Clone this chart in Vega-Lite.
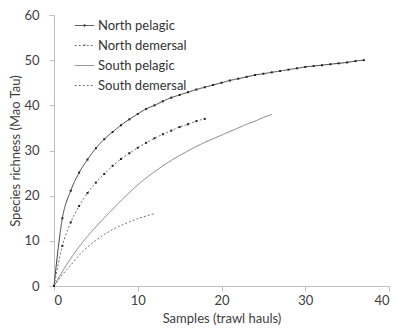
{
  "$schema": "https://vega.github.io/schema/vega-lite/v6.json",
  "width": 335,
  "height": 271,
  "autosize": {"type": "none"},
  "padding": {"left": 54, "top": 15, "right": 9, "bottom": 47},
  "background": "white",
  "config": {
    "view": {"stroke": null},
    "font": "Lato",
    "axis": {
      "grid": false,
      "domainColor": "#bfbfbf",
      "tickColor": "#bfbfbf",
      "tickSize": 5,
      "labelFont": "Lato",
      "labelFontSize": 13,
      "labelColor": "#404040",
      "titleFont": "Lato",
      "titleFontSize": 13,
      "titleFontWeight": "normal",
      "titleColor": "#404040"
    }
  },
  "data": {
    "values": [
      {"series": "North pelagic", "x": 0, "y": 0},
      {"series": "North pelagic", "x": 1, "y": 15.0},
      {"series": "North pelagic", "x": 2, "y": 21.1},
      {"series": "North pelagic", "x": 3, "y": 25.1},
      {"series": "North pelagic", "x": 4, "y": 28.0},
      {"series": "North pelagic", "x": 5, "y": 30.5},
      {"series": "North pelagic", "x": 6, "y": 32.5},
      {"series": "North pelagic", "x": 7, "y": 34.1},
      {"series": "North pelagic", "x": 8, "y": 35.6},
      {"series": "North pelagic", "x": 9, "y": 36.9},
      {"series": "North pelagic", "x": 10, "y": 38.1},
      {"series": "North pelagic", "x": 11, "y": 39.2},
      {"series": "North pelagic", "x": 12, "y": 40.0},
      {"series": "North pelagic", "x": 13, "y": 40.9},
      {"series": "North pelagic", "x": 14, "y": 41.7},
      {"series": "North pelagic", "x": 15, "y": 42.3},
      {"series": "North pelagic", "x": 16, "y": 42.9},
      {"series": "North pelagic", "x": 17, "y": 43.5},
      {"series": "North pelagic", "x": 18, "y": 44.0},
      {"series": "North pelagic", "x": 19, "y": 44.5},
      {"series": "North pelagic", "x": 20, "y": 45.0},
      {"series": "North pelagic", "x": 21, "y": 45.5},
      {"series": "North pelagic", "x": 22, "y": 45.9},
      {"series": "North pelagic", "x": 23, "y": 46.3},
      {"series": "North pelagic", "x": 24, "y": 46.7},
      {"series": "North pelagic", "x": 25, "y": 47.0},
      {"series": "North pelagic", "x": 26, "y": 47.3},
      {"series": "North pelagic", "x": 27, "y": 47.6},
      {"series": "North pelagic", "x": 28, "y": 47.9},
      {"series": "North pelagic", "x": 29, "y": 48.2},
      {"series": "North pelagic", "x": 30, "y": 48.5},
      {"series": "North pelagic", "x": 31, "y": 48.7},
      {"series": "North pelagic", "x": 32, "y": 48.9},
      {"series": "North pelagic", "x": 33, "y": 49.1},
      {"series": "North pelagic", "x": 34, "y": 49.3},
      {"series": "North pelagic", "x": 35, "y": 49.5},
      {"series": "North pelagic", "x": 36, "y": 49.8},
      {"series": "North pelagic", "x": 37, "y": 50.0},
      {"series": "North demersal", "x": 0, "y": 0},
      {"series": "North demersal", "x": 1, "y": 8.9},
      {"series": "North demersal", "x": 2, "y": 14.1},
      {"series": "North demersal", "x": 3, "y": 17.7},
      {"series": "North demersal", "x": 4, "y": 20.6},
      {"series": "North demersal", "x": 5, "y": 22.9},
      {"series": "North demersal", "x": 6, "y": 24.8},
      {"series": "North demersal", "x": 7, "y": 26.6},
      {"series": "North demersal", "x": 8, "y": 28.1},
      {"series": "North demersal", "x": 9, "y": 29.4},
      {"series": "North demersal", "x": 10, "y": 30.6},
      {"series": "North demersal", "x": 11, "y": 31.7},
      {"series": "North demersal", "x": 12, "y": 32.7},
      {"series": "North demersal", "x": 13, "y": 33.6},
      {"series": "North demersal", "x": 14, "y": 34.4},
      {"series": "North demersal", "x": 15, "y": 35.2},
      {"series": "North demersal", "x": 16, "y": 35.8},
      {"series": "North demersal", "x": 17, "y": 36.5},
      {"series": "North demersal", "x": 18, "y": 37.0},
      {"series": "South pelagic", "x": 0, "y": 0},
      {"series": "South pelagic", "x": 1, "y": 3.2},
      {"series": "South pelagic", "x": 2, "y": 6.1},
      {"series": "South pelagic", "x": 3, "y": 8.7},
      {"series": "South pelagic", "x": 4, "y": 11.0},
      {"series": "South pelagic", "x": 5, "y": 13.1},
      {"series": "South pelagic", "x": 6, "y": 15.1},
      {"series": "South pelagic", "x": 7, "y": 17.0},
      {"series": "South pelagic", "x": 8, "y": 18.9},
      {"series": "South pelagic", "x": 9, "y": 20.7},
      {"series": "South pelagic", "x": 10, "y": 22.4},
      {"series": "South pelagic", "x": 11, "y": 23.9},
      {"series": "South pelagic", "x": 12, "y": 25.3},
      {"series": "South pelagic", "x": 13, "y": 26.6},
      {"series": "South pelagic", "x": 14, "y": 27.8},
      {"series": "South pelagic", "x": 15, "y": 28.9},
      {"series": "South pelagic", "x": 16, "y": 29.9},
      {"series": "South pelagic", "x": 17, "y": 30.9},
      {"series": "South pelagic", "x": 18, "y": 31.8},
      {"series": "South pelagic", "x": 19, "y": 32.6},
      {"series": "South pelagic", "x": 20, "y": 33.4},
      {"series": "South pelagic", "x": 21, "y": 34.2},
      {"series": "South pelagic", "x": 22, "y": 35.0},
      {"series": "South pelagic", "x": 23, "y": 35.8},
      {"series": "South pelagic", "x": 24, "y": 36.5},
      {"series": "South pelagic", "x": 25, "y": 37.3},
      {"series": "South pelagic", "x": 26, "y": 38.0},
      {"series": "South demersal", "x": 0, "y": 0},
      {"series": "South demersal", "x": 1, "y": 2.5},
      {"series": "South demersal", "x": 2, "y": 4.6},
      {"series": "South demersal", "x": 3, "y": 6.8},
      {"series": "South demersal", "x": 4, "y": 8.6},
      {"series": "South demersal", "x": 5, "y": 10.1},
      {"series": "South demersal", "x": 6, "y": 11.4},
      {"series": "South demersal", "x": 7, "y": 12.5},
      {"series": "South demersal", "x": 8, "y": 13.4},
      {"series": "South demersal", "x": 9, "y": 14.2},
      {"series": "South demersal", "x": 10, "y": 14.9},
      {"series": "South demersal", "x": 11, "y": 15.5},
      {"series": "South demersal", "x": 12, "y": 16.0}
    ]
  },
  "layer": [
    {
      "mark": {"type": "line", "strokeWidth": 1, "interpolate": "monotone"},
      "encoding": {
        "x": {
          "field": "x", "type": "quantitative",
          "scale": {"domain": [0, 40], "nice": false},
          "axis": {"values": [0, 10, 20, 30, 40], "title": "Samples (trawl hauls)", "labelPadding": 3, "titlePadding": 5}
        },
        "y": {
          "field": "y", "type": "quantitative",
          "scale": {"domain": [0, 60], "nice": false},
          "axis": {"values": [0, 10, 20, 30, 40, 50, 60], "title": "Species richness (Mao Tau)", "labelPadding": 10, "titlePadding": 1}
        },
        "color": {
          "field": "series", "type": "nominal",
          "scale": {
            "domain": ["North pelagic", "North demersal", "South pelagic", "South demersal"],
            "range": ["#404040", "#707070", "#808080", "#707070"]
          },
          "legend": {
            "title": null,
            "orient": "none",
            "legendX": 20,
            "legendY": 0,
            "symbolType": "stroke",
            "symbolSize": 380,
            "symbolStrokeWidth": 1,
            "labelFont": "Lato",
            "labelFontSize": 13,
            "labelColor": "#333333",
            "rowPadding": 2,
            "labelOffset": 3,
            "encode": {
              "symbols": {
                "update": {
                  "shape": {"signal": "datum.value == 'North pelagic' || datum.value == 'North demersal' ? 'M-1,0H1M-0.07,-0.07H0.07V0.07H-0.07Z' : 'stroke'"}
                }
              }
            }
          }
        },
        "strokeDash": {
          "field": "series", "type": "nominal",
          "scale": {
            "domain": ["North pelagic", "North demersal", "South pelagic", "South demersal"],
            "range": [[1, 0], [2, 2], [1, 0], [2, 2]]
          },
          "legend": {
            "title": null,
            "orient": "none",
            "legendX": 20,
            "legendY": 0,
            "symbolType": "stroke",
            "symbolSize": 380,
            "symbolStrokeWidth": 1,
            "labelFont": "Lato",
            "labelFontSize": 13,
            "labelColor": "#333333",
            "rowPadding": 2,
            "labelOffset": 3,
            "encode": {
              "symbols": {
                "update": {
                  "shape": {"signal": "datum.value == 'North pelagic' || datum.value == 'North demersal' ? 'M-1,0H1M-0.07,-0.07H0.07V0.07H-0.07Z' : 'stroke'"}
                }
              }
            }
          }
        }
      }
    },
    {
      "transform": [{"filter": "datum.series == 'North pelagic' || datum.series == 'North demersal'"}],
      "mark": {"type": "square", "size": 4, "color": "#222222", "opacity": 1},
      "encoding": {
        "x": {"field": "x", "type": "quantitative"},
        "y": {"field": "y", "type": "quantitative"}
      }
    }
  ]
}
